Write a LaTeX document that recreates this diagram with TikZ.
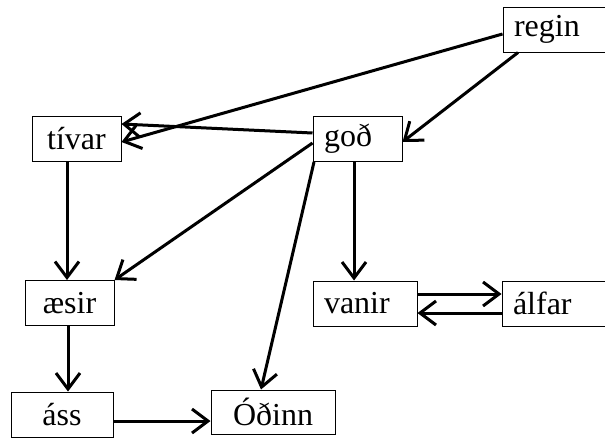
\documentclass[tikz,border=0pt]{standalone}
\usepackage{fontspec}
\setmainfont{Liberation Serif}
\usetikzlibrary{arrows.meta,positioning}
\tikzset{
  box/.style={draw,line width=1pt,minimum height=45pt,inner sep=0pt,
    font=\fontsize{32}{38}\selectfont},
  lbox/.style={box,text width=#1,align=left,inner xsep=11pt},
  arr/.style={-{Straight Barb[length=16pt,width=24pt]},line width=3pt}
}
\begin{document}
\begin{tikzpicture}[x=1pt,y=-1pt]
\useasboundingbox (0,0) rectangle (605,439);

\node[lbox=83pt] (regin) at (555.5,29.5) {regin};
\node[box,minimum width=89pt] (tivar) at (76.5,138.5) {tívar};
\node[lbox=67pt] (god) at (357.5,139) {goð};
\node[box,minimum width=89pt] (aesir) at (69.5,303) {æsir};
\node[lbox=82pt] (vanir) at (365,303.5) {vanir};
\node[lbox=84pt] (alfar) at (555,303.5) {álfar};
\node[box,minimum width=102pt] (ass) at (62,414.5) {áss};
\node[box,minimum width=124pt,minimum height=44pt] (odinn) at (273,412) {Óðinn};

\draw[arr] ([yshift=-4.5pt]regin.west) -- ([yshift=-3.5pt]tivar.east);
\draw[arr] ([yshift=6pt]god.west) -- ([yshift=14.5pt]tivar.east);
\draw[arr] ([xshift=-37.5pt]regin.south) -- ([yshift=-3pt]god.east);
\draw[arr] ([xshift=-9.5pt]tivar.south) -- ([xshift=-2.5pt]aesir.north);
\draw[arr] ([yshift=-4pt]god.west) -- (aesir.north east);
\draw[arr] ([xshift=-43.5pt]god.south) -- ([xshift=-12pt]odinn.north);
\draw[arr] ([xshift=-3.5pt]god.south) -- ([xshift=-11pt]vanir.north);
\draw[arr] ([xshift=-1.5pt]aesir.south) -- ([xshift=6pt]ass.north);
\draw[arr] ([yshift=-6.5pt]ass.east) -- ([yshift=-9pt]odinn.west);
\draw[arr] ([yshift=9.5pt]vanir.east) -- ([yshift=9.5pt]alfar.west);
\draw[arr] ([yshift=-9.5pt]alfar.west) -- ([yshift=-9.5pt]vanir.east);
\end{tikzpicture}
\end{document}
